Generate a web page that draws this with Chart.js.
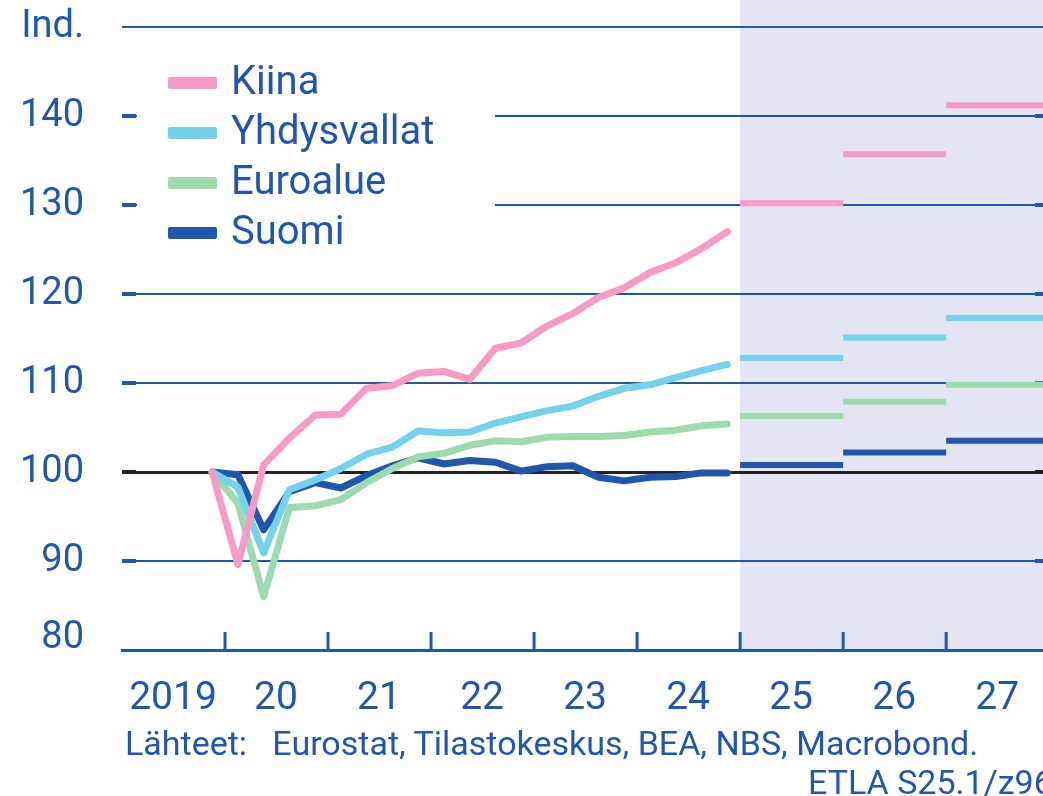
<!DOCTYPE html>
<html lang="fi">
<head>
<meta charset="utf-8">
<script src="https://cdn.jsdelivr.net/npm/chart.js@4/dist/chart.umd.min.js"></script>
<style>
  html, body { margin: 0; padding: 0; background: #fff; overflow: hidden; }
  #wrap { position: relative; width: 1043px; height: 796px; overflow: hidden; }
  .lahde { position: absolute; font-family: Roboto, sans-serif; font-size: 34px; line-height: 34px; color: #2156ad; white-space: pre; }
</style>
</head>
<body>
<div id="wrap">
  <canvas id="kuvio" width="1043" height="796"></canvas>
  <div class="lahde" style="left:125px; top:726px">Lähteet:   Eurostat, Tilastokeskus, BEA, NBS, Macrobond.</div>
  <div class="lahde" style="left:808px; top:765px">ETLA S25.1/z96</div>
</div>
<script>
// neljännesvuosittaiset havainnot, 2019Q4 = 100
const kvartaalit = ['2019Q4',
  '2020Q1', '2020Q2', '2020Q3', '2020Q4',
  '2021Q1', '2021Q2', '2021Q3', '2021Q4',
  '2022Q1', '2022Q2', '2022Q3', '2022Q4',
  '2023Q1', '2023Q2', '2023Q3', '2023Q4',
  '2024Q1', '2024Q2', '2024Q3', '2024Q4'];

const kiina       = [100, 89.6, 100.8, 103.8, 106.4, 106.5, 109.4, 109.7, 111.1, 111.3, 110.4, 113.9, 114.5, 116.4, 117.8, 119.6, 120.7, 122.4, 123.5, 125.1, 127.0];
const yhdysvallat = [100, 98.3, 90.9, 98.0, 99.1, 100.4, 102.0, 102.8, 104.6, 104.4, 104.5, 105.5, 106.2, 106.9, 107.4, 108.5, 109.4, 109.8, 110.6, 111.4, 112.1];
const euroalue    = [100, 96.5, 86.0, 96.0, 96.2, 96.9, 98.8, 100.4, 101.7, 102.1, 103.0, 103.5, 103.4, 103.9, 104.0, 104.0, 104.1, 104.5, 104.7, 105.2, 105.4];
const suomi       = [100, 99.7, 93.5, 97.8, 98.8, 98.2, 99.6, 100.7, 101.6, 100.9, 101.3, 101.1, 100.1, 100.6, 100.7, 99.4, 99.0, 99.4, 99.5, 99.9, 99.9];

// ennusteet, vuositasot
const ennusteVuodet      = [2025, 2026, 2027];
const kiinaEnnuste       = [130.2, 135.7, 141.2];
const yhdysvallatEnnuste = [112.8, 115.1, 117.3];
const euroalueEnnuste    = [106.3, 107.9, 109.8];
const suomiEnnuste       = [100.8, 102.2, 103.5];

const vuosiLabelit = ['2019', '20', '21', '22', '23', '24', '25', '26', '27'];
const yTikit = [80, 90, 100, 110, 120, 130, 140, 150];

const SININEN = '#2156ad';
const FONTTI = 'Roboto';

const sarjat = [
  { nimi: 'Kiina',       vari: '#f59bc6', data: kiina,       ennuste: kiinaEnnuste },
  { nimi: 'Yhdysvallat', vari: '#76d1ec', data: yhdysvallat, ennuste: yhdysvallatEnnuste },
  { nimi: 'Euroalue',    vari: '#9cdbad', data: euroalue,    ennuste: euroalueEnnuste },
  { nimi: 'Suomi',       vari: '#2156ad', data: suomi,       ennuste: suomiEnnuste }
];

function kvartaaliX(q) {
  const v = parseInt(q.slice(0, 4));
  const n = parseInt(q.slice(5));
  return v + (n - 0.5) / 4;
}

const datasets = [];
sarjat.forEach((s, i) => {
  datasets.push({
    label: s.nimi,
    data: s.data.map((y, j) => ({ x: kvartaaliX(kvartaalit[j]), y: y })),
    borderColor: s.vari,
    borderWidth: 7,
    borderCapStyle: 'round',
    borderJoinStyle: 'round',
    pointRadius: 0,
    tension: 0,
    order: i
  });
  const e = [];
  ennusteVuodet.forEach((v, j) => {
    e.push({ x: v, y: s.ennuste[j] }, { x: v + 1, y: s.ennuste[j] }, { x: v + 1, y: null });
  });
  datasets.push({
    label: s.nimi + ' ennuste',
    data: e,
    borderColor: s.vari,
    borderWidth: 6,
    borderCapStyle: 'butt',
    pointRadius: 0,
    spanGaps: false,
    order: i
  });
});

// ennustealueen tausta; 80-tikin nimi hieman ylemmäs
const taustaPlugin = {
  id: 'tausta',
  beforeDraw(chart) {
    const { ctx, chartArea, scales } = chart;
    const x0 = scales.x.getPixelForValue(ennusteVuodet[0]);
    ctx.save();
    ctx.fillStyle = '#e3e5f4';
    ctx.fillRect(x0, 0, chartArea.right - x0, chartArea.bottom);
    ctx.restore();

    const ys = scales.y;
    const items = ys._labelItems || (ys._labelItems = ys._computeLabelItems(chartArea));
    if (items && items[0] && !items[0]._siirretty) {
      items[0].options.translation[1] -= 12;
      items[0]._siirretty = true;
    }
  }
};

// selite, väkäset
const selitePlugin = {
  id: 'selite',
  beforeDatasetsDraw(chart) {
    const { ctx, chartArea, scales } = chart;
    ctx.save();
    ctx.fillStyle = '#fff';
    ctx.fillRect(137, 45, 358, 215);

    ctx.strokeStyle = SININEN;
    ctx.lineWidth = 3;
    for (let v = 2020; v <= 2027; v++) {
      const x = scales.x.getPixelForValue(v);
      ctx.beginPath();
      ctx.moveTo(x, chartArea.bottom - 18);
      ctx.lineTo(x, chartArea.bottom);
      ctx.stroke();
    }
    // y-väkäset reunoilla
    ctx.lineWidth = 4;
    yTikit.slice(1, -1).forEach(v => {
      const y = scales.y.getPixelForValue(v);
      ctx.strokeStyle = v === 100 ? '#222222' : SININEN;
      ctx.beginPath();
      ctx.moveTo(chartArea.left, y);
      ctx.lineTo(chartArea.left + 14, y);
      ctx.moveTo(chartArea.right - 8, y);
      ctx.lineTo(chartArea.right, y);
      ctx.stroke();
    });

    ctx.font = '40px ' + FONTTI;
    ctx.textBaseline = 'middle';
    sarjat.forEach((s, i) => {
      const y = 83 + i * 50;
      ctx.fillStyle = s.vari;
      ctx.beginPath();
      ctx.roundRect(168, y - 6, 49, 12, 2);
      ctx.fill();
      ctx.fillStyle = SININEN;
      ctx.fillText(s.nimi, 231, y + 1);
    });
    ctx.restore();
  }
};

new Chart(document.getElementById('kuvio'), {
  type: 'line',
  data: { datasets: datasets },
  options: {
    responsive: false,
    animation: false,
    layout: { padding: { top: 27, right: 0, left: 0, bottom: 0 } },
    plugins: {
      legend: { display: false },
      tooltip: { enabled: false }
    },
    scales: {
      x: {
        type: 'linear',
        min: 2019,
        max: 2027.94,
        afterBuildTicks(s) { s.ticks = vuosiLabelit.map((l, i) => ({ value: 2019 + i })); },
        ticks: {
          autoSkip: false,
          maxRotation: 0,
          labelOffset: 51,
          padding: 26,
          color: SININEN,
          font: { family: FONTTI, size: 39 },
          callback: (v) => vuosiLabelit[v - 2019] || ''
        },
        grid: { display: false, drawTicks: false },
        border: { display: true, color: SININEN, width: 3 },
        afterFit(s) { s.height = 146; s.paddingLeft = 0; s.paddingRight = 0; }
      },
      y: {
        min: 80,
        max: 150,
        afterBuildTicks(s) { s.ticks = yTikit.map(v => ({ value: v })); },
        ticks: {
          padding: 38,
          color: SININEN,
          font: { family: FONTTI, size: 38 },
          callback: (v) => v === 150 ? 'Ind.' : v
        },
        grid: {
          drawTicks: false,
          color: (c) => c.tick.value === 100 ? '#222222' : (c.tick.value === 80 ? 'rgba(0,0,0,0)' : SININEN),
          lineWidth: (c) => c.tick.value === 100 ? 3 : 2
        },
        border: { display: false },
        afterFit(s) { s.width = 122; s.paddingTop = 0; s.paddingBottom = 0; }
      }
    }
  },
  plugins: [taustaPlugin, selitePlugin]
});
</script>
</body>
</html>
